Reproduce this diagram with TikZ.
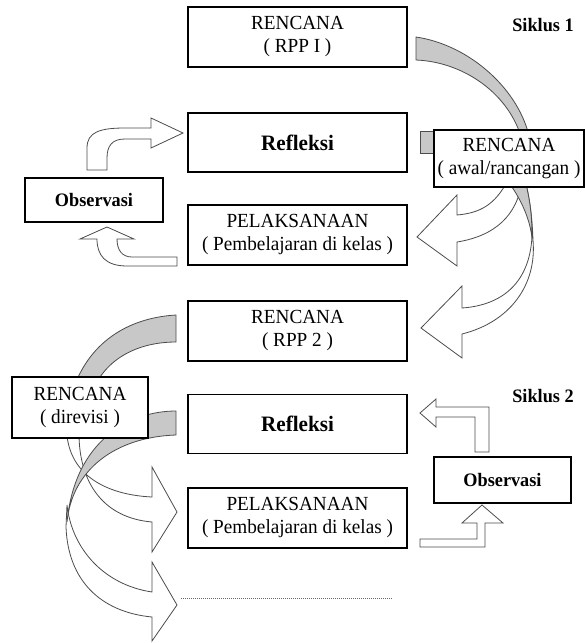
\documentclass[tikz,border=0pt]{standalone}
\usepackage{fontspec}
\setmainfont{Liberation Serif}[FakeStretch=0.96]
\definecolor{ribbon}{RGB}{200,200,200}
\tikzset{
  box/.style={draw=black, line width=1.1pt, fill=white, inner sep=0pt, align=center,
    font=\fontsize{20}{23}\selectfont},
  boldbox/.style={box, font=\bfseries\fontsize{19}{22}\selectfont},
  blk/.style={draw=black!70, line width=0.8pt, fill=white, line join=miter},
  rib/.style={draw=black!70, line width=0.8pt, fill=ribbon},
  lbl/.style={font=\bfseries\fontsize{19}{22}\selectfont, inner sep=0pt},
}
\begin{document}
\begin{tikzpicture}[x=1pt,y=-1pt]
\useasboundingbox (0,0) rectangle (585,643);

% ---------- Cycle 1, right side ribbons ----------
\path[rib] (416,37) .. controls (470,45) and (520,90) .. (530,140)
  -- (522,140) .. controls (510,95) and (465,62) .. (416,60) -- cycle;
\path[rib] (420,131) rectangle (440,153);
% arrow into PELAKSANAAN 1
\path[blk] (508,180) .. controls (495,205) and (480,213) .. (457,215)
  -- (457,195) -- (417,237) -- (457,266) -- (457,242)
  .. controls (495,236) and (518,215) .. (522,180) -- cycle;
% arrow into RENCANA (RPP 2)
\path[blk] (532,236) .. controls (530,280) and (505,305) .. (462,308)
  -- (462,286) -- (421,328) -- (462,358) -- (462,334)
  .. controls (510,322) and (537,285) .. (533,240)
  .. controls (532,215) and (530,200) .. (525,180) -- cycle;
\path[rib] (507,180) .. controls (522,200) and (530,220) .. (532,238)
  .. controls (532,215) and (530,200) .. (525,180) -- cycle;

% ---------- Cycle 2, left side ribbons ----------
\path[rib] (176,315) .. controls (125,318) and (88,345) .. (73,390)
  -- (93,390) .. controls (107,357) and (140,342) .. (176,342) -- cycle;
% arrow into PELAKSANAAN 2
\path[blk] (67,436) .. controls (72,478) and (110,495) .. (152,497)
  -- (152,467) -- (177,512) -- (152,552) -- (152,522)
  .. controls (105,518) and (80,485) .. (79,436) -- cycle;
% arrow into the dotted line
\path[blk] (67,505) .. controls (72,550) and (105,585) .. (152,592)
  -- (152,562) -- (177,605) -- (152,641) -- (152,617)
  .. controls (100,612) and (68,580) .. (66,527) -- cycle;
\path[rib] (176,411) .. controls (130,411) and (75,440) .. (67,522)
  .. controls (72,470) and (115,437) .. (176,435) -- cycle;

% ---------- Boxes ----------
\node[box, minimum width=219pt, minimum height=60pt] (r1) at (297.5,37) {RENCANA\\( RPP I )};
\node[box, font=\bfseries\fontsize{22}{26}\selectfont, minimum width=219pt, minimum height=59pt] (ref1) at (297.5,142.5) {Refleksi};
\node[box, minimum width=150pt, minimum height=57pt] (awal) at (509,158.5) {RENCANA\\( awal/rancangan )};
\node[boldbox, minimum width=138pt, minimum height=44pt] (obs1) at (94,200) {Observasi};
\node[box, minimum width=219pt, minimum height=60pt] (pel1) at (297.5,235) {PELAKSANAAN\\( Pembelajaran di kelas )};
\node[box, minimum width=219pt, minimum height=60pt] (r2) at (297.5,331) {RENCANA\\( RPP 2 )};
\node[box, minimum width=136pt, minimum height=61pt] (direv) at (80,407.5) {RENCANA\\( direvisi )};
\node[box, font=\bfseries\fontsize{22}{26}\selectfont, minimum width=219pt, minimum height=59pt] (ref2) at (297.5,424) {Refleksi};
\node[boldbox, minimum width=137pt, minimum height=46pt] (obs2) at (502.5,480) {Observasi};
\node[box, minimum width=219pt, minimum height=60pt] (pel2) at (297.5,518) {PELAKSANAAN\\( Pembelajaran di kelas )};

\node[lbl] (s1) at (543,25) {Siklus 1};
\node[lbl] (s2) at (543,396) {Siklus 2};

% ---------- Bent arrows ----------
% Observasi 1 -> Refleksi 1
\path[blk] (87,170) -- (87,148) .. controls (87,132) and (100,128) .. (125,128)
  -- (151,128) -- (151,118) -- (183,133) -- (151,148) -- (151,139) -- (125,139)
  .. controls (112,139) and (107,146) .. (107,158) -- (107,170) -- cycle;
% PELAKSANAAN 1 -> Observasi 1
\path[blk] (177,266) -- (127,266) .. controls (105,266) and (97,255) .. (97,239)
  -- (80,239) -- (107,227) -- (134,239) -- (117,239)
  .. controls (117,250) and (122,257) .. (132,257) -- (177,257) -- cycle;
% Observasi 2 -> Refleksi 2
\path[blk] (475,452) -- (475,417) -- (436,417) -- (436,427) -- (420,413)
  -- (436,399) -- (436,407) -- (489,407) -- (489,452) -- cycle;
% PELAKSANAAN 2 -> Observasi 2
\path[blk] (420,539) -- (477,539) -- (477,523) -- (462,523) -- (482,505)
  -- (503,523) -- (485,523) -- (485,547) -- (420,547) -- cycle;

% dotted continuation line
\coordinate (d1) at (181,598);
\coordinate (d2) at (393,598);
\draw[black!60, line width=0.6pt, dash pattern=on 1pt off 1pt] (d1) -- (d2);
\end{tikzpicture}
\end{document}
